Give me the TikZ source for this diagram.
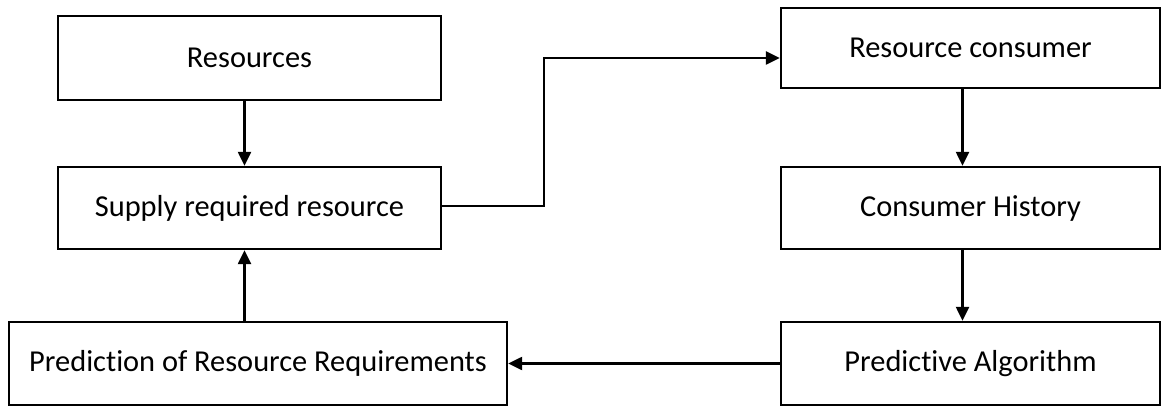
\documentclass[tikz,border=0pt]{standalone}
\usepackage{fontspec}
\setmainfont{Carlito}[Ligatures={NoCommon}]
\usetikzlibrary{arrows.meta}
\tikzset{
  block/.style={draw, line width=2.4pt, minimum width=383pt, minimum height=82pt,
    inner sep=0pt, font=\fontsize{30.4}{33}\selectfont},
  link/.style={line width=2.4pt, -{Triangle[length=14pt,width=13pt]}}
}
\begin{document}
\begin{tikzpicture}[x=1pt,y=-1pt]
      \useasboundingbox (0,0) rectangle (1162,406);
      \node[block, minimum height=84pt] (res) at (249.5,58) {Resources};
      \node[block] (sup) at (249.5,208) {Supply required resource};
      \node[block, minimum width=498pt, minimum height=83pt] (pred) at (258,363.5) {Prediction of Resource Requirements};
      \node[block, minimum width=379pt, minimum height=80pt] (cons) at (970.5,48) {Resource consumer};
      \node[block, minimum width=379pt] (hist) at (970.5,208) {Consumer History};
      \node[block, minimum width=379pt, minimum height=83pt] (alg) at (970.5,363.5) {Predictive Algorithm};
      \coordinate (bend) at (544,58);
      \begin{scope}[link]
        \draw ([xshift=-5pt]res.south) to ([xshift=-5pt]sup.north);
        \draw ([xshift=-5pt]sup.south |- pred.north) to ([xshift=-5pt]sup.south);
        \draw ([yshift=2pt]sup.east) -| (bend) -- (cons.west |- bend);
        \draw ([xshift=-8pt]cons.south) to ([xshift=-8pt]hist.north);
        \draw ([xshift=-8pt]hist.south) to ([xshift=-8pt]alg.north);
        \draw (alg.west) to (pred.east);
      \end{scope}
    \end{tikzpicture}
\end{document}
